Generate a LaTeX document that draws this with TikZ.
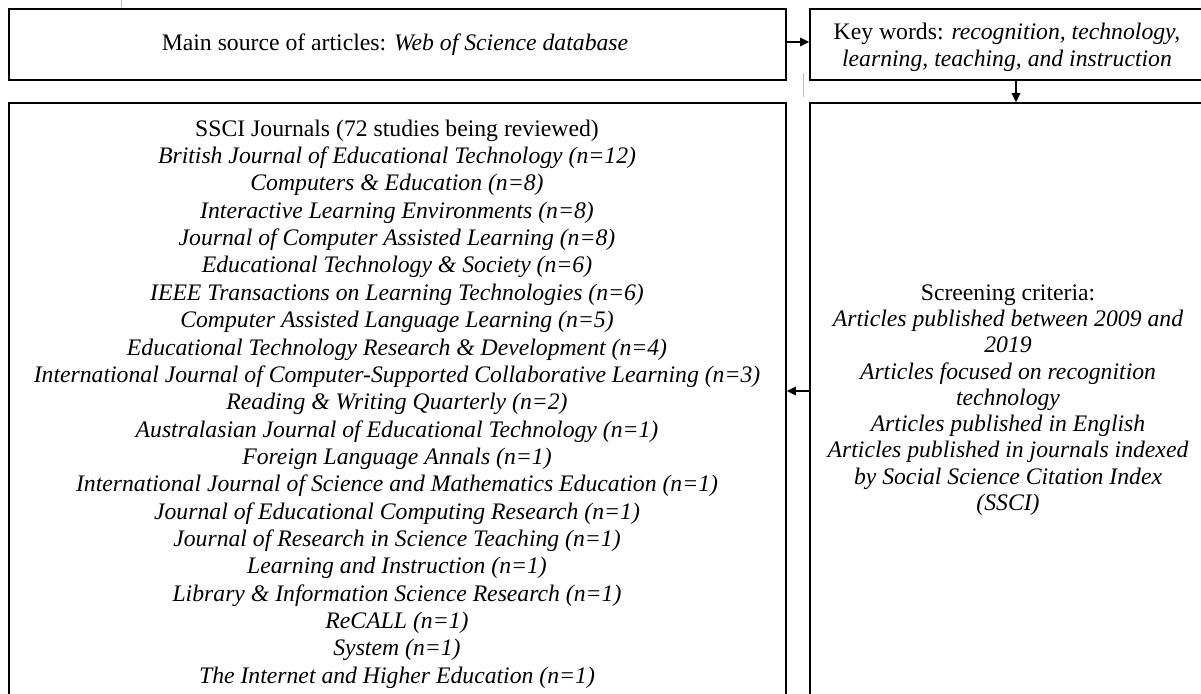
\documentclass[tikz,border=0pt]{standalone}
\usepackage{fontspec}
\setmainfont{Liberation Serif}
\usetikzlibrary{arrows.meta}
\begin{document}
\begin{tikzpicture}[x=1pt,y=-1pt,
  frame/.style={draw=black,line width=1.6pt,inner sep=0pt,rectangle},
  txt/.style={align=center,inner sep=0pt,font=\fontsize{23.7}{27.35}\selectfont},
  arr/.style={line width=1.6pt,-{Triangle[length=9pt,width=8.5pt]}},
  faint/.style={draw=black!25,line width=0.8pt}]
\useasboundingbox (0,0) rectangle (1201,693);
\fill[white] (0,0) rectangle (1201,693);

% frames
\node[frame,minimum width=777pt,minimum height=71pt] (src) at (397.5,44.5) {};
\node[frame,minimum width=396pt,minimum height=71pt] (kw) at (1008,44.5) {};
\node[frame,minimum width=777pt,minimum height=594pt] (jrn) at (397.5,400) {};
\node[frame,minimum width=396pt,minimum height=594pt] (scr) at (1008,400) {};

% texts
\node[txt] (srct) at (395,45) {Main source of articles: \textit{Web of Science database}};
\node[txt] (kwt) at (1007,47)
  {Key words: \textit{recognition, technology,}\\
   \textit{learning, teaching, and instruction}};
\node[txt] (jrnt) at (397,404) {SSCI Journals (72 studies being reviewed)\\
  \textit{British Journal of Educational Technology (n=12)}\\
  \textit{Computers \& Education (n=8)}\\
  \textit{Interactive Learning Environments (n=8)}\\
  \textit{Journal of Computer Assisted Learning (n=8)}\\
  \textit{Educational Technology \& Society (n=6)}\\
  \textit{IEEE Transactions on Learning Technologies (n=6)}\\
  \textit{Computer Assisted Language Learning (n=5)}\\
  \textit{Educational Technology Research \& Development (n=4)}\\
  \textit{International Journal of Computer-Supported Collaborative Learning (n=3)}\\
  \textit{Reading \& Writing Quarterly (n=2)}\\
  \textit{Australasian Journal of Educational Technology (n=1)}\\
  \textit{Foreign Language Annals (n=1)}\\
  \textit{International Journal of Science and Mathematics Education (n=1)}\\
  \textit{Journal of Educational Computing Research (n=1)}\\
  \textit{Journal of Research in Science Teaching (n=1)}\\
  \textit{Learning and Instruction (n=1)}\\
  \textit{Library \& Information Science Research (n=1)}\\
  \textit{ReCALL (n=1)}\\
  \textit{System (n=1)}\\
  \textit{The Internet and Higher Education (n=1)}};
\node[txt,font=\fontsize{23.7}{26.3}\selectfont] (scrt) at (1008,400) {Screening criteria:\\
  \textit{Articles published between 2009 and}\\
  \textit{2019}\\
  \textit{Articles focused on recognition}\\
  \textit{technology}\\
  \textit{Articles published in English}\\
  \textit{Articles published in journals indexed}\\
  \textit{by Social Science Citation Index}\\
  \textit{(SSCI)}};

% connectors
\coordinate (ay) at (0,42);
\coordinate (ax) at (1016,0);
\coordinate (ly) at (0,391);
\draw[arr] (src.east |- ay) -- (kw.west |- ay);
\draw[arr] (kw.south -| ax) -- (scr.north -| ax);
\draw[arr] (scr.west |- ly) -- (jrn.east |- ly);

% faint rule marks
\coordinate (g1) at (803,73);
\coordinate (g2) at (803,97);
\draw[faint] (g1) -- (g2);
\coordinate (g3) at (121,0);
\coordinate (g4) at (121,7);
\draw[faint] (g3) -- (g4);
\end{tikzpicture}
\end{document}
